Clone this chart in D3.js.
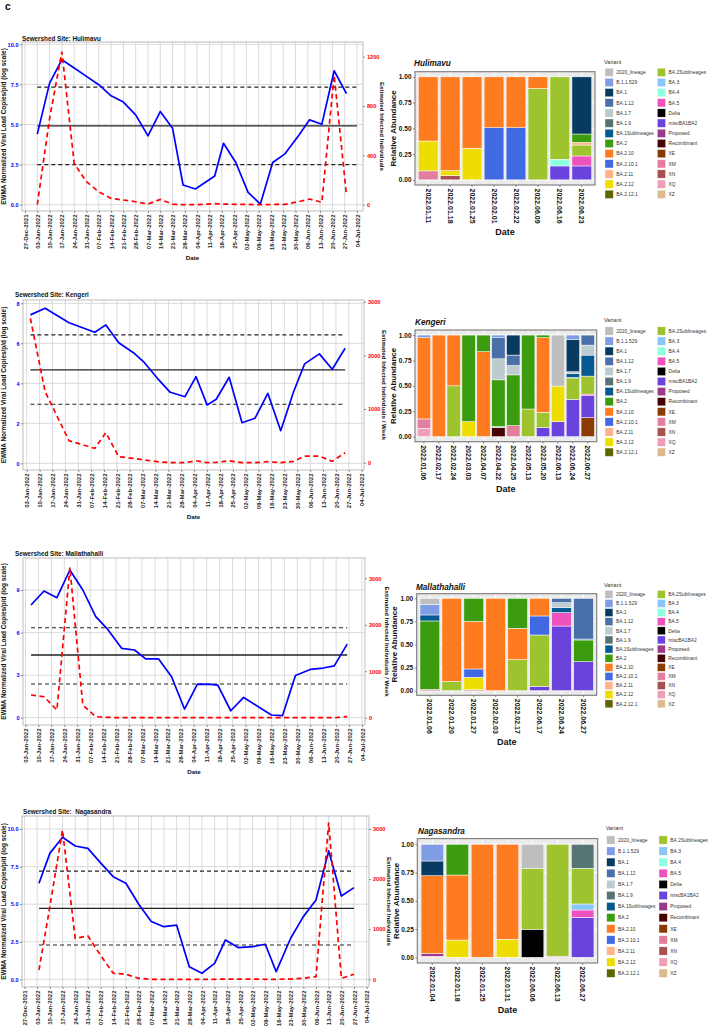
<!DOCTYPE html>
<html>
<head>
<meta charset="utf-8">
<script src="https://cdn.jsdelivr.net/npm/d3@7"></script>
<style>
  body { margin: 0; background: #fff; }
  svg { display: block; }
</style>
</head>
<body>
<svg id="fig" width="711" height="1036"></svg>
<script>
const FONT = "'Liberation Sans', Arial, sans-serif";

// ---- variant palette (legend order) ----
const variants = ["2020_lineage","B.1.1.529","BA.1","BA.1.12","BA.1.7","BA.1.9","BA.1Sublineages","BA.2","BA.2.10","BA.2.10.1","BA.2.11","BA.2.12","BA.2.12.1",
  "BA.2Sublineages","BA.3","BA.4","BA.5","Delta","miscBA1BA2","Proposed","Recombinant","XE","XM","XN","XQ","XZ"];
const variantColors = ["#BEBEBE","#7F9DE4","#073B62","#4A70AA","#BCCBCF","#577474","#075A91","#3A9C0E","#FF7B1F","#4169E1","#FFB38A","#EEDD00","#5E6600",
  "#9DC32E","#88C5F8","#8DFFDE","#EE52BC","#000000","#6A42DC","#9B3A8B","#470303","#8B3A02","#E47E9E","#A8504F","#EE9EB6","#DCBA8B"];

// ---- wastewater series ----
const hulimavuDates = ["2022-01-03","2022-01-10","2022-01-17","2022-01-24","2022-01-31","2022-02-07","2022-02-14","2022-02-21","2022-02-28","2022-03-07","2022-03-14","2022-03-21","2022-03-27",
  "2022-04-03","2022-04-14","2022-04-19","2022-04-26","2022-05-03","2022-05-10","2022-05-17","2022-05-24","2022-06-01","2022-06-07","2022-06-14","2022-06-21","2022-06-28"];
const hulimavuViral = [4.4,7.58,9.04,8.52,8.0,7.48,6.79,6.4,5.6,4.29,5.81,4.77,1.23,0.98,1.79,3.83,2.63,0.77,0.04,2.63,3.17,4.35,5.29,5.02,8.35,6.92];
const hulimavuInfected = [0,700,1240,335,186,105,51,38,24,5,43,5,0,0,8,5,3,2,0,2,3,25,46,19,1050,78];
const hulimavuControl = { mean: 4.92, ucl: 7.33, lcl: 2.5, from: "2022-01-03", to: "2022-07-04" };

const kengeriDates = ["2022-01-05","2022-01-13","2022-01-26","2022-02-09","2022-02-15","2022-02-22","2022-03-02","2022-03-08","2022-03-15","2022-03-22","2022-03-30","2022-04-05",
  "2022-04-11","2022-04-16","2022-04-23","2022-04-30","2022-05-07","2022-05-14","2022-05-21","2022-05-28","2022-06-03","2022-06-11","2022-06-18","2022-06-25"];
const kengeriViral = [7.42,7.75,7.03,6.55,6.92,6.03,5.53,5.03,4.25,3.55,3.33,4.33,2.92,3.2,4.3,2.03,2.25,3.5,1.63,3.58,4.97,5.47,4.7,5.75];
const kengeriInfected = [2690,1323,410,267,559,112,81,50,19,0,0,37,0,6,37,0,0,19,0,25,124,124,25,186];
const kengeriControl = { mean: 4.67, ucl: 6.42, lcl: 2.95, from: "2022-01-05", to: "2022-06-25" };

const mallathahalliDates = ["2022-01-06","2022-01-13","2022-01-20","2022-01-27","2022-02-03","2022-02-10","2022-02-16","2022-02-24","2022-03-03","2022-03-09","2022-03-16","2022-03-23",
  "2022-03-30","2022-04-06","2022-04-13","2022-04-17","2022-04-24","2022-05-01","2022-05-16","2022-05-22","2022-05-29","2022-06-06","2022-06-13","2022-06-19","2022-06-26"];
const mallathahalliViral = [7.94,8.93,8.46,10.41,9.0,7.12,6.3,4.89,4.77,4.14,4.14,2.89,0.61,2.37,2.35,2.3,0.49,1.43,0.19,0.14,2.97,3.4,3.5,3.65,5.19];
const mallathahalliInfected = [488,452,165,3230,273,22,7,0,0,0,0,0,0,0,0,0,0,0,0,0,0,0,0,0,22];
const mallathahalliControl = { mean: 4.42, ucl: 6.34, lcl: 2.37, from: "2022-01-06", to: "2022-06-26" };

const nagasandraDates = ["2022-01-04","2022-01-10","2022-01-17","2022-01-24","2022-01-31","2022-02-07","2022-02-14","2022-02-21","2022-02-28","2022-03-07","2022-03-14","2022-03-21","2022-03-28",
  "2022-04-04","2022-04-11","2022-04-17","2022-04-24","2022-05-02","2022-05-09","2022-05-15","2022-05-23","2022-05-30","2022-06-06","2022-06-13","2022-06-20","2022-06-27"];
const nagasandraViral = [6.39,8.38,9.45,8.87,8.71,7.75,6.83,6.39,5.01,3.84,3.5,3.61,0.84,0.4,1.06,2.62,2.11,2.17,2.33,0.51,2.73,4.17,5.28,8.54,5.54,6.1];
const nagasandraInfected = [186,1450,2980,818,865,480,120,100,20,0,0,0,0,0,0,5,5,5,0,0,5,20,53,3127,20,100];
const nagasandraControl = { mean: 4.72, ucl: 7.2, lcl: 2.28, from: "2022-01-04", to: "2022-06-27" };

// ---- sequencing (relative abundance) ----
const hulimavuSeqDates = ["2022.01.11","2022.01.18","2022.01.25","2022.02.01","2022.02.22","2022.06.09","2022.06.16","2022.06.23"];
const hulimavuAbundance = [
  { "XM": 0.087, "BA.2.12": 0.29, "BA.2.10": 0.623 },
  { "XN": 0.04, "BA.2.12": 0.05, "BA.2.10": 0.91 },
  { "BA.2.12": 0.306, "BA.2.10": 0.694 },
  { "BA.2.10.1": 0.506, "BA.2.10": 0.494 },
  { "BA.2.10.1": 0.506, "BA.2.10": 0.494 },
  { "BA.2Sublineages": 0.887, "BA.2.10": 0.113 },
  { "miscBA1BA2": 0.135, "BA.4": 0.065, "BA.2Sublineages": 0.8 },
  { "miscBA1BA2": 0.135, "BA.5": 0.097, "BA.2Sublineages": 0.106, "BA.2.11": 0.026, "BA.2": 0.081, "BA.1": 0.555 }
];

const kengeriSeqDates = ["2022.01.06","2022.02.17","2022.02.24","2022.03.03","2022.04.07","2022.04.22","2022.04.25","2022.05.13","2022.05.20","2022.06.13","2022.06.24","2022.06.27"];
const kengeriAbundance = [
  { "XQ": 0.082, "XM": 0.092, "BA.2.10": 0.8, "B.1.1.529": 0.026 },
  { "BA.2.10": 1 },
  { "BA.2Sublineages": 0.5, "BA.2.10": 0.5 },
  { "BA.2.12": 0.148, "BA.2": 0.852 },
  { "BA.2.10": 0.836, "BA.2": 0.164 },
  { "Recombinant": 0.089, "BA.3": 0.01, "BA.2": 0.46, "BA.1.7": 0.207, "BA.1.12": 0.208, "B.1.1.529": 0.026 },
  { "XM": 0.108, "BA.2": 0.5, "BA.1.7": 0.092, "BA.1.12": 0.103, "BA.1": 0.197 },
  { "BA.2Sublineages": 0.272, "BA.2": 0.728 },
  { "miscBA1BA2": 0.089, "BA.2Sublineages": 0.15, "BA.2.10": 0.735, "BA.2": 0.026 },
  { "miscBA1BA2": 0.148, "BA.2.12": 0.35, "2020_lineage": 0.502 },
  { "miscBA1BA2": 0.367, "BA.2Sublineages": 0.203, "BA.2": 0.013, "BA.1Sublineages": 0.04, "BA.1.7": 0.016, "BA.1": 0.32, "B.1.1.529": 0.041 },
  { "XE": 0.187, "miscBA1BA2": 0.216, "BA.5": 0.016, "BA.2Sublineages": 0.177, "BA.1Sublineages": 0.207, "BA.1.7": 0.098, "BA.1.12": 0.099 }
];

const mallathahalliSeqDates = ["2022.01.06","2022.01.20","2022.01.27","2022.02.03","2022.02.17","2022.06.17","2022.06.24","2022.06.27"];
const mallathahalliAbundance = [
  { "XN": 0.015, "BA.2": 0.74, "BA.1Sublineages": 0.065, "B.1.1.529": 0.115, "2020_lineage": 0.065 },
  { "BA.2Sublineages": 0.1, "BA.2.10": 0.9 },
  { "XN": 0.01, "BA.2.12": 0.135, "BA.2.10.1": 0.09, "BA.2.10": 0.515, "BA.2": 0.25 },
  { "BA.2.10": 1 },
  { "BA.2Sublineages": 0.335, "BA.2.10": 0.34, "BA.2": 0.325 },
  { "miscBA1BA2": 0.045, "BA.2Sublineages": 0.558, "BA.2.10.1": 0.206, "BA.2.10": 0.191 },
  { "miscBA1BA2": 0.7, "BA.5": 0.145, "BA.1Sublineages": 0.054, "BA.1.7": 0.054, "BA.1.12": 0.047 },
  { "miscBA1BA2": 0.314, "BA.2": 0.235, "BA.1Sublineages": 0.01, "BA.1.12": 0.441 }
];

const nagasandraSeqDates = ["2022.01.04","2022.01.18","2022.01.25","2022.01.31","2022.06.06","2022.06.13","2022.06.27"];
const nagasandraAbundance = [
  { "XQ": 0.01, "Proposed": 0.025, "BA.2.10": 0.687, "BA.1": 0.13, "B.1.1.529": 0.148 },
  { "BA.2.12": 0.153, "BA.2.10": 0.575, "BA.2": 0.272 },
  { "BA.2.10": 1 },
  { "BA.2.12": 0.16, "BA.2.10": 0.84 },
  { "Delta": 0.248, "BA.2Sublineages": 0.54, "2020_lineage": 0.212 },
  { "XM": 0.01, "BA.2Sublineages": 0.99 },
  { "miscBA1BA2": 0.354, "BA.5": 0.065, "BA.3": 0.053, "BA.2Sublineages": 0.316, "BA.1.9": 0.212 }
];

const parse = d3.timeParse("%Y-%m-%d");
const svg = d3.select("#fig").attr("font-family", FONT);
const color = d3.scaleOrdinal().domain(variants).range(variantColors);

svg.append("rect").attr("width", 711).attr("height", 1036).attr("fill", "#fff");
svg.append("text").attr("x", 5).attr("y", 10).attr("font-size", 10).attr("font-weight", "bold").text("c");

// ---- layout of the line panels ----
const lineSites = [
  { title: "Sewershed Site: Hulimavu", tx: 22, ty: 39, box: [22, 363, 42, 211], xFrom: "2021-12-27", xr: [25, 357],
    left: { ticks: [0, 2.5, 5, 7.5, 10], fmt: d3.format(".1f"), at: [0, 10], px: [204.7, 44.3] },
    right: { ticks: [0, 400, 800, 1200], at: [0, 1200], px: [204.7, 56.7], title: "Estimated Infected Individuals", tx: 380 },
    dates: hulimavuDates, viral: hulimavuViral, infected: hulimavuInfected, ctrl: hulimavuControl, dateTitle: true },
  { title: "Sewershed Site: Kengeri", tx: 15, ty: 295, box: [23, 364, 300, 470], xFrom: "2022-01-03", xr: [26.7, 361.7],
    left: { ticks: [0, 2, 4, 6, 8], fmt: d3.format("d"), at: [0, 8], px: [463.3, 303.3] },
    right: { ticks: [0, 1000, 2000, 3000], at: [0, 3000], px: [462.7, 301.7], title: "Estimated Infected Individuals / Week", tx: 382 },
    dates: kengeriDates, viral: kengeriViral, infected: kengeriInfected, ctrl: kengeriControl, dateTitle: true },
  { title: "Sewershed Site: Mallathahalli", tx: 15, ty: 554, box: [23, 365, 558, 725], xFrom: "2022-01-03", xr: [25.5, 362],
    left: { ticks: [0, 3, 6, 9], fmt: d3.format("d"), at: [0, 9], px: [717.7, 590] },
    right: { ticks: [0, 1000, 2000, 3000], at: [0, 3000], px: [717.7, 578.3], title: "Estimated Infected Individuals / Week", tx: 385 },
    dates: mallathahalliDates, viral: mallathahalliViral, infected: mallathahalliInfected, ctrl: mallathahalliControl, dateTitle: true },
  { title: "Sewershed Site:  Nagasandra", tx: 23, ty: 812, box: [22, 369, 816, 987], xFrom: "2021-12-27", xr: [24.5, 366.7],
    left: { ticks: [0, 2.5, 5, 7.5, 10], fmt: d3.format(".1f"), at: [0, 10], px: [979.3, 829] },
    right: { ticks: [0, 1000, 2000, 3000], at: [0, 3000], px: [979.3, 829], title: "Estimated Infected Individuals", tx: 387 },
    dates: nagasandraDates, viral: nagasandraViral, infected: nagasandraInfected, ctrl: nagasandraControl, dateTitle: false }
];

const barSites = [
  { title: "Hulimavu", tx: 414, ty: 66, box: [415, 595, 71.7, 185], yTitleX: 395.5, dates: hulimavuSeqDates, abundance: hulimavuAbundance,
    legend: { x: 605, ty: 62, row0: 72.3, step: 10.17 } },
  { title: "Kengeri", tx: 415, ty: 325, box: [415, 596.7, 330, 441.7], yTitleX: 396, dates: kengeriSeqDates, abundance: kengeriAbundance,
    legend: { x: 605, ty: 320, row0: 331, step: 10.1 } },
  { title: "Mallathahalli", tx: 416, ty: 590, box: [416.7, 596.7, 593.7, 695.3], yTitleX: 397, dates: mallathahalliSeqDates, abundance: mallathahalliAbundance,
    legend: { x: 605, ty: 585, row0: 594.3, step: 9.13 } },
  { title: "Nagasandra", tx: 418, ty: 834, box: [417.3, 597.7, 838.6, 963], yTitleX: 399, dates: nagasandraSeqDates, abundance: nagasandraAbundance,
    legend: { x: 606.7, ty: 828.3, row0: 840, step: 11.1 } }
];

function styleAxis(ax, fill, size) {
  ax.attr("font-family", FONT);
  ax.select(".domain").remove();
  ax.selectAll("line").attr("stroke", "#444").attr("stroke-width", 0.6);
  ax.selectAll("text").attr("fill", fill).attr("font-size", size).attr("font-weight", "bold");
}

function drawLineSite(s) {
  const [bx0, bx1, by0, by1] = s.box;
  const g = svg.append("g");
  const x = d3.scaleTime().domain([parse(s.xFrom), parse("2022-07-04")]).range(s.xr);
  const yL = d3.scaleLinear().domain(s.left.at).range(s.left.px);
  const yR = d3.scaleLinear().domain(s.right.at).range(s.right.px);
  const weeks = x.ticks(d3.timeMonday.every(1));
  const rows = s.dates.map((d, i) => ({ date: parse(d), viral: s.viral[i], infected: s.infected[i] }));

  g.append("text").attr("x", s.tx).attr("y", s.ty + 2).attr("font-size", 6.3).attr("font-weight", "bold")
    .style("white-space", "pre").attr("fill", "#111").text(s.title);

  // gridlines
  g.append("g").selectAll("line").data(weeks).join("line")
    .attr("x1", d => x(d)).attr("x2", d => x(d)).attr("y1", by0).attr("y2", by1)
    .attr("stroke", "#d6d6d6").attr("stroke-width", 0.9);
  g.append("g").selectAll("line").data(s.left.ticks).join("line")
    .attr("x1", bx0).attr("x2", bx1).attr("y1", d => yL(d)).attr("y2", d => yL(d))
    .attr("stroke", "#d6d6d6").attr("stroke-width", 0.9);
  g.append("rect").attr("x", bx0).attr("y", by0).attr("width", bx1 - bx0).attr("height", by1 - by0)
    .attr("fill", "none").attr("stroke", "#b5b5b5").attr("stroke-width", 0.9);

  // control limits
  const c = s.ctrl;
  [[c.ucl, "4,3", 1.1], [c.mean, null, 1.3], [c.lcl, "4,3", 1.1]].forEach(([v, dash, w]) => {
    g.append("line").attr("x1", x(parse(c.from))).attr("x2", x(parse(c.to)))
      .attr("y1", yL(v)).attr("y2", yL(v))
      .attr("stroke", "#222").attr("stroke-width", w).attr("stroke-dasharray", dash);
  });

  g.append("path").datum(rows)
    .attr("fill", "none").attr("stroke", "#0000FF").attr("stroke-width", 1.7).attr("stroke-linejoin", "round")
    .attr("d", d3.line().x(d => x(d.date)).y(d => yL(d.viral)));

  g.append("path").datum(rows)
    .attr("fill", "none").attr("stroke", "#FF0000").attr("stroke-width", 1.7).attr("stroke-dasharray", "5,3.5")
    .attr("d", d3.line().x(d => x(d.date)).y(d => yR(d.infected)));

  // axes
  const axL = g.append("g").attr("transform", `translate(${bx0},0)`)
    .call(d3.axisLeft(yL).tickValues(s.left.ticks).tickFormat(s.left.fmt).tickSize(2).tickPadding(1.5));
  styleAxis(axL, "#0000FF", 5.6);

  const axR = g.append("g").attr("transform", `translate(${bx1},0)`)
    .call(d3.axisRight(yR).tickValues(s.right.ticks).tickFormat(d3.format("d")).tickSize(2).tickPadding(2));
  styleAxis(axR, "#FF0000", 5.6);

  const axB = g.append("g").attr("transform", `translate(0,${by1})`)
    .call(d3.axisBottom(x).tickValues(weeks).tickFormat(d3.timeFormat("%d-%b-%Y")).tickSize(2));
  styleAxis(axB, "#222", 6);
  axB.selectAll("text").attr("transform", "rotate(-90)").attr("text-anchor", "end")
    .attr("x", -3.5).attr("y", 0).attr("dy", "0.35em");

  const midY = (by0 + by1) / 2;
  g.append("text").attr("transform", `translate(6,${midY}) rotate(-90)`).attr("text-anchor", "middle")
    .attr("font-size", 6.4).attr("font-weight", "bold").attr("fill", "#111")
    .text("EWMA Normalized Viral Load Copies/p/d (log scale)");
  g.append("text").attr("transform", `translate(${s.right.tx},${midY}) rotate(90)`).attr("text-anchor", "middle")
    .attr("font-size", 6.2).attr("font-weight", "bold").attr("fill", "#111").text(s.right.title);
  if (s.dateTitle) {
    g.append("text").attr("x", (bx0 + bx1) / 2).attr("y", by1 + 49).attr("text-anchor", "middle")
      .attr("font-size", 6.2).attr("font-weight", "bold").attr("fill", "#111").text("Date");
  }
}

function drawBarSite(s) {
  const [bx0, bx1, by0, by1] = s.box;
  const g = svg.append("g");
  const x = d3.scaleBand().domain(s.dates).range([bx0, bx1]).paddingInner(0.1).paddingOuter(0.15);
  const y = d3.scaleLinear().domain([-0.05, 1.05]).range([by1, by0]);

  g.append("text").attr("x", s.tx).attr("y", s.ty).attr("font-size", 8.2).attr("font-weight", "bold")
    .attr("font-style", "italic").attr("fill", "#111").text(s.title);

  g.append("rect").attr("x", bx0).attr("y", by0).attr("width", bx1 - bx0).attr("height", by1 - by0).attr("fill", "#EBEBEB");
  g.append("g").selectAll("line").data([0.125, 0.375, 0.625, 0.875]).join("line")
    .attr("x1", bx0).attr("x2", bx1).attr("y1", d => y(d)).attr("y2", d => y(d)).attr("stroke", "#fff").attr("stroke-width", 0.5);
  g.append("g").selectAll("line").data([0, 0.25, 0.5, 0.75, 1]).join("line")
    .attr("x1", bx0).attr("x2", bx1).attr("y1", d => y(d)).attr("y2", d => y(d)).attr("stroke", "#fff").attr("stroke-width", 1);
  g.append("g").selectAll("line").data(s.dates).join("line")
    .attr("x1", d => x(d) + x.bandwidth() / 2).attr("x2", d => x(d) + x.bandwidth() / 2)
    .attr("y1", by0).attr("y2", by1).attr("stroke", "#fff").attr("stroke-width", 1);

  const series = d3.stack().keys(variants.slice().reverse()).value((d, k) => d[k] || 0)(s.abundance);
  g.append("g").selectAll("g").data(series).join("g")
    .attr("fill", d => color(d.key))
    .selectAll("rect")
    .data(d => d.map((seg, i) => ({ seg, date: s.dates[i] })).filter(o => o.seg[1] - o.seg[0] > 0))
    .join("rect")
    .attr("x", o => x(o.date)).attr("width", x.bandwidth())
    .attr("y", o => y(o.seg[1])).attr("height", o => y(o.seg[0]) - y(o.seg[1]))
    .attr("stroke", "#fff").attr("stroke-width", 0.5);

  g.append("rect").attr("x", bx0).attr("y", by0).attr("width", bx1 - bx0).attr("height", by1 - by0)
    .attr("fill", "none").attr("stroke", "#7a7a7a").attr("stroke-width", 1.1);

  const axL = g.append("g").attr("transform", `translate(${bx0},0)`)
    .call(d3.axisLeft(y).tickValues([0, 0.25, 0.5, 0.75, 1]).tickFormat(d3.format(".2f")).tickSize(2).tickPadding(1.5));
  styleAxis(axL, "#111", 6.5);

  const axB = g.append("g").attr("transform", `translate(0,${by1})`)
    .call(d3.axisBottom(x).tickSize(2));
  styleAxis(axB, "#111", 7);
  axB.selectAll("text").attr("transform", "rotate(90)").attr("text-anchor", "start")
    .attr("x", 3.5).attr("y", 0).attr("dy", "0.35em");

  g.append("text").attr("transform", `translate(${s.yTitleX},${(by0 + by1) / 2}) rotate(-90)`).attr("text-anchor", "middle")
    .attr("font-size", 8).attr("font-weight", "bold").attr("fill", "#111").text("Relative Abundance");
  g.append("text").attr("x", (bx0 + bx1) / 2).attr("y", by1 + 50).attr("text-anchor", "middle")
    .attr("font-size", 9).attr("font-weight", "bold").attr("fill", "#111").text("Date");

  // legend
  const L = s.legend;
  const lg = svg.append("g");
  lg.append("text").attr("x", L.x - 1).attr("y", L.ty + 2).attr("font-size", 5.6).attr("fill", "#333").text("Variant");
  const k = Math.min(8.3, L.step - 1.2);
  const item = lg.selectAll("g").data(variants).join("g")
    .attr("transform", (d, i) => `translate(${L.x + (i < 13 ? 0 : 52.3)},${L.row0 + (i % 13) * L.step})`);
  item.append("rect").attr("x", 0).attr("y", -k / 2).attr("width", k).attr("height", k)
    .attr("fill", d => color(d)).attr("stroke", "#fff").attr("stroke-width", 0.4);
  item.append("text").attr("x", k + 3).attr("y", 0).attr("dy", "0.35em")
    .attr("font-size", 4.9).attr("fill", "#333").text(d => d);
}

lineSites.forEach(drawLineSite);
barSites.forEach(drawBarSite);
</script>
</body>
</html>
